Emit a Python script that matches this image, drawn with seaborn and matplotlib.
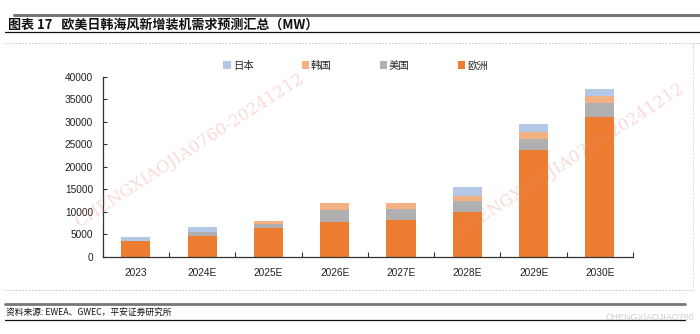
import matplotlib
matplotlib.use("Agg")
import matplotlib.pyplot as plt
import seaborn as sns
import pandas as pd
import numpy as np
from matplotlib.patches import Patch
from matplotlib.lines import Line2D

sns.set_theme(style="white")
plt.rcParams['font.family'] = ['Liberation Sans', 'Noto Sans CJK SC', 'DejaVu Sans']

years = ["2023", "2024E", "2025E", "2026E", "2027E", "2028E", "2029E", "2030E"]
europe = [3500, 4700, 6300, 7800, 8100, 10000, 23600, 31000]
usa = [0, 900, 950, 2650, 2450, 2300, 2500, 3100]
korea = [0, 0, 700, 1500, 1400, 1250, 1500, 1600]
japan = [800, 950, 0, 0, 0, 2000, 1900, 1500]
yticks = [0, 5000, 10000, 15000, 20000, 25000, 30000, 35000, 40000]

c_eu, c_us, c_kr, c_jp = "#ED7D31", "#B0B0B0", "#F4B183", "#B4C7E7"

df = pd.DataFrame({"year": years, "eu": europe, "us": usa, "kr": korea, "jp": japan})
df["s1"] = df["eu"]
df["s2"] = df["s1"] + df["us"]
df["s3"] = df["s2"] + df["kr"]
df["s4"] = df["s3"] + df["jp"]

fig = plt.figure(figsize=(7.0, 3.34), dpi=100)
ax = fig.add_axes([102.7/700, 1-256.7/334, (633-102.7)/700, 180/334])

for col, color in [("s4", c_jp), ("s3", c_kr), ("s2", c_us), ("s1", c_eu)]:
    sns.barplot(data=df, x="year", y=col, color=color, width=0.44, ax=ax,
                saturation=1, linewidth=0, errorbar=None)

ax.set_ylim(0, 40000)
ax.set_xlim(-0.5, 7.5)
ax.set_yticks(yticks)
ax.set_yticklabels([str(v) for v in yticks], fontsize=7.3, color="#222222")
ax.set_xlabel("")
ax.set_ylabel("")
ax.set_xticks(range(len(years)))
ax.set_xticklabels(years, fontsize=7.3, color="#222222")
ax.tick_params(axis="x", length=0, pad=8)
ax.tick_params(axis="y", direction="in", length=3, width=0.8, color="#333333", pad=7, left=True)
# category boundary ticks on x-axis
ax.set_xticks(np.arange(-0.5, 8.0, 1.0), minor=True)
ax.tick_params(axis="x", which="minor", direction="in", length=3.5, width=0.8, color="#333333", bottom=True)
for s in ["top", "right"]:
    ax.spines[s].set_visible(False)
for s in ["left", "bottom"]:
    ax.spines[s].set_color("#333333")
    ax.spines[s].set_linewidth(0.9)
ax.grid(False)

handles = [Patch(facecolor=c, edgecolor="none") for c in [c_jp, c_kr, c_us, c_eu]]
labels = ["日本", "韩国", "美国", "欧洲"]
fig.legend(handles, labels, loc="center", bbox_to_anchor=(0.508, 1-65.5/334), ncol=4,
           frameon=False, handlelength=0.75, handleheight=0.75,
           handletextpad=0.15, columnspacing=4.6,
           prop={'family': ['Noto Sans CJK SC'], 'size': 7.5})

# title and decorative rules
fig.add_artist(Line2D([14/700, 700/700], [1-15/334]*2, color="#777777", lw=2.2))
fig.text(8/700, 1-24.5/334, "图表 17   欧美日韩海风新增装机需求预测汇总（MW）", fontsize=9.4,
         fontweight="bold", va="center", ha="left", family=['Noto Sans CJK SC', 'DejaVu Sans'], color="#111111")
fig.add_artist(Line2D([5/700, 700/700], [1-31.5/334]*2, color="#111111", lw=0.9))
fig.add_artist(Line2D([5/700, 700/700], [1-43/334]*2, color="#bbbbbb", lw=0.6, ls=(0, (2, 2))))
fig.add_artist(Line2D([5/700, 693/700], [1-290/334]*2, color="#bbbbbb", lw=0.6, ls=(0, (2, 2))))
fig.add_artist(Line2D([693/700, 693/700], [1-43/334, 1-290/334], color="#cccccc", lw=0.6, ls=(0, (2, 2))))

fig.add_artist(Line2D([5/700, 685/700], [1-304/334]*2, color="#777777", lw=2.0))
fig.text(6/700, 1-312.5/334, "资料来源: EWEA、GWEC，平安证券研究所", fontsize=6.3, style="italic",
         va="center", ha="left", family=['Noto Sans CJK SC', 'DejaVu Sans'], color="#111111")
fig.add_artist(Line2D([5/700, 685/700], [1-320/334]*2, color="#111111", lw=0.9))

# watermarks
fig.text(190/700, 1-150/334, "CHENGXIAOJIA0760-20241212", fontsize=12, color="#f08080", alpha=0.3,
         rotation=33, ha="center", va="center", family="DejaVu Serif")
fig.text(570/700, 1-160/334, "CHENGXIAOJIA0760-20241212", fontsize=12, color="#f08080", alpha=0.3,
         rotation=33, ha="center", va="center", family="DejaVu Serif")
fig.text(650/700, 1-318/334, "CHENGXIAOJIAO760", fontsize=6.5, color="#cccccc", ha="center", va="center")

fig.savefig("out.png", dpi=100)
